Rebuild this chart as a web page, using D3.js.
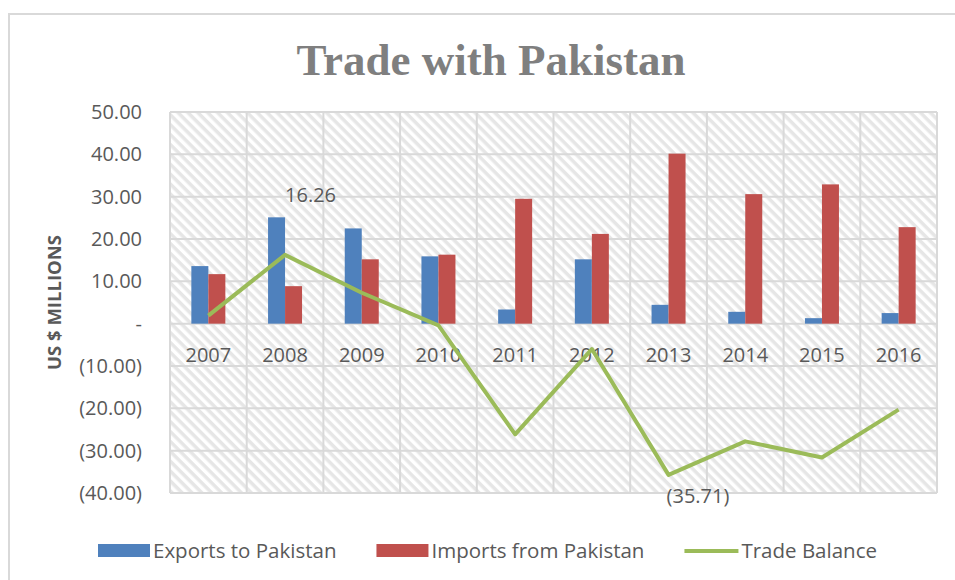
<!DOCTYPE html>
<html>
<head>
<meta charset="utf-8">
<script src="https://cdn.jsdelivr.net/npm/d3@7/dist/d3.min.js"></script>
<style>
  body { margin: 0; background: #fff; }
  svg { display: block; }
  text { font-family: 'Open Sans', sans-serif; fill: #595959; }
</style>
</head>
<body>
<svg id="chart" width="955" height="580"></svg>
<script>
// data
var years = ['2007','2008','2009','2010','2011','2012','2013','2014','2015','2016'];
var exportsToPk   = [13.6, 25.12, 22.5, 15.9, 3.35, 15.2, 4.45, 2.8, 1.3, 2.5];
var importsFromPk = [11.7, 8.86, 15.2, 16.3, 29.5, 21.2, 40.16, 30.6, 32.9, 22.8];
var tradeBalance  = [1.9, 16.26, 7.3, -0.4, -26.15, -6.0, -35.71, -27.8, -31.6, -20.3];
var yTicks = [50, 40, 30, 20, 10, 0, -10, -20, -30, -40];
var seriesNames = ['Exports to Pakistan', 'Imports from Pakistan', 'Trade Balance'];
var seriesColors = ['#4f81bd', '#c0504d', '#9bbb59'];

// layout
var margin = { top: 112, right: 18, bottom: 87, left: 170 },
    width  = 955 - margin.left - margin.right,
    height = 580 - margin.top - margin.bottom;

var svg = d3.select('#chart');

// outer chart border
svg.append('rect')
    .attr('x', 9).attr('y', 14)
    .attr('width', 980).attr('height', 600)
    .attr('fill', 'none')
    .attr('stroke', '#d9d9d9')
    .attr('stroke-width', 2);

// hatch pattern for plot area
var defs = svg.append('defs');
var pat = defs.append('pattern')
    .attr('id', 'hatch')
    .attr('patternUnits', 'userSpaceOnUse')
    .attr('width', 7).attr('height', 7)
    .attr('patternTransform', 'rotate(45)');
pat.append('rect').attr('width', 7).attr('height', 7).attr('fill', '#fff');
pat.append('rect').attr('width', 7).attr('height', 3.5).attr('fill', '#e6e6e6');

var g = svg.append('g')
    .attr('transform', 'translate(' + margin.left + ',' + margin.top + ')');

// scales
var x = d3.scaleBand().domain(years).range([0, width]).padding(0);
var x1 = d3.scaleBand().domain([0, 1])
    .range([x.bandwidth() / 2 - 17, x.bandwidth() / 2 + 17]).padding(0);
var y = d3.scaleLinear().domain([-40, 50]).range([height, 0]);

g.append('rect')
    .attr('width', width).attr('height', height)
    .attr('fill', 'url(#hatch)');

// gridlines
g.selectAll('.hgrid')
    .data(yTicks)
    .enter().append('line')
    .attr('class', 'hgrid')
    .attr('x1', 0).attr('x2', width)
    .attr('y1', function(d){ return y(d); })
    .attr('y2', function(d){ return y(d); })
    .attr('stroke', '#d9d9d9').attr('stroke-width', 2);

g.selectAll('.vgrid')
    .data(years.concat(['end']))
    .enter().append('line')
    .attr('class', 'vgrid')
    .attr('x1', function(d, i){ return i * x.bandwidth(); })
    .attr('x2', function(d, i){ return i * x.bandwidth(); })
    .attr('y1', 0).attr('y2', height)
    .attr('stroke', '#d9d9d9').attr('stroke-width', 2);

// y axis labels
function fmt(d) {
    if (d === 0) return '-';
    var s = Math.abs(d).toFixed(2);
    return d < 0 ? '(' + s + ')' : s;
}
var yAxis = d3.axisLeft(y).tickValues(yTicks).tickFormat(fmt).tickSize(0).tickPadding(28);
var ya = g.append('g').call(yAxis);
ya.select('.domain').remove();
ya.selectAll('text')
    .style('font-family', "'Open Sans', sans-serif")
    .style('font-size', '20px')
    .attr('fill', '#595959');

// bars
var barData = years.map(function(yr, i){ return { year: yr, vals: [exportsToPk[i], importsFromPk[i]] }; });
var grp = g.selectAll('.grp')
    .data(barData)
    .enter().append('g')
    .attr('transform', function(d){ return 'translate(' + x(d.year) + ',0)'; });
grp.selectAll('rect')
    .data(function(d){ return d.vals; })
    .enter().append('rect')
    .attr('x', function(d, i){ return x1(i); })
    .attr('width', x1.bandwidth())
    .attr('y', function(d){ return y(Math.max(0, d)); })
    .attr('height', function(d){ return Math.abs(y(d) - y(0)); })
    .attr('fill', function(d, i){ return seriesColors[i]; });

// category labels (sit just under the zero line)
g.selectAll('.cat')
    .data(years)
    .enter().append('text')
    .attr('class', 'cat')
    .attr('x', function(d){ return x(d) + x.bandwidth() / 2; })
    .attr('y', y(0) + 38)
    .attr('text-anchor', 'middle')
    .style('font-size', '20px')
    .text(function(d){ return d; });

// trade balance line
var line = d3.line()
    .x(function(d, i){ return x(years[i]) + x.bandwidth() / 2; })
    .y(function(d){ return y(d); });
g.append('path')
    .datum(tradeBalance)
    .attr('d', line)
    .attr('fill', 'none')
    .attr('stroke', seriesColors[2])
    .attr('stroke-width', 4)
    .attr('stroke-linejoin', 'round');

// data labels
var i08 = years.indexOf('2008'), i13 = years.indexOf('2013');
g.append('text')
    .attr('x', x(years[i08]) + x.bandwidth() / 2)
    .attr('y', y(tradeBalance[i08]) - 53)
    .style('font-size', '20px')
    .text(tradeBalance[i08].toFixed(2));
g.append('text')
    .attr('x', x(years[i13]) + x.bandwidth() / 2 - 2)
    .attr('y', y(tradeBalance[i13]) + 28)
    .style('font-size', '20px')
    .text(fmt(tradeBalance[i13]));

// title
svg.append('text')
    .attr('x', 491).attr('y', 75)
    .attr('text-anchor', 'middle')
    .style('font-family', "'Liberation Serif', serif")
    .style('font-weight', 'bold')
    .style('font-size', '45px')
    .style('fill', '#7f7f7f')
    .text('Trade with Pakistan');

// y axis title
svg.append('text')
    .attr('transform', 'translate(61,' + (margin.top + y(5)) + ') rotate(-90)')
    .attr('text-anchor', 'middle')
    .style('font-weight', 'bold')
    .style('font-size', '18.5px')
    .text('US $ MILLIONS');

// legend
var legend = svg.append('g').attr('transform', 'translate(98,550)');
var lx = 0;
seriesNames.forEach(function(name, i){
    var item = legend.append('g').attr('transform', 'translate(' + lx + ',0)');
    if (i < 2) {
        item.append('rect').attr('x', 0).attr('y', -6).attr('width', 52).attr('height', 13)
            .attr('fill', seriesColors[i]);
    } else {
        item.append('line').attr('x1', 0).attr('x2', 54).attr('y1', 1).attr('y2', 1)
            .attr('stroke', seriesColors[i]).attr('stroke-width', 4);
    }
    var t = item.append('text')
        .attr('x', i < 2 ? 55 : 57)
        .attr('y', 8)
        .style('font-size', '20.5px')
        .text(name);
    lx += (i < 2 ? 55 : 57) + t.node().getComputedTextLength() + 40;
});
</script>
</body>
</html>
